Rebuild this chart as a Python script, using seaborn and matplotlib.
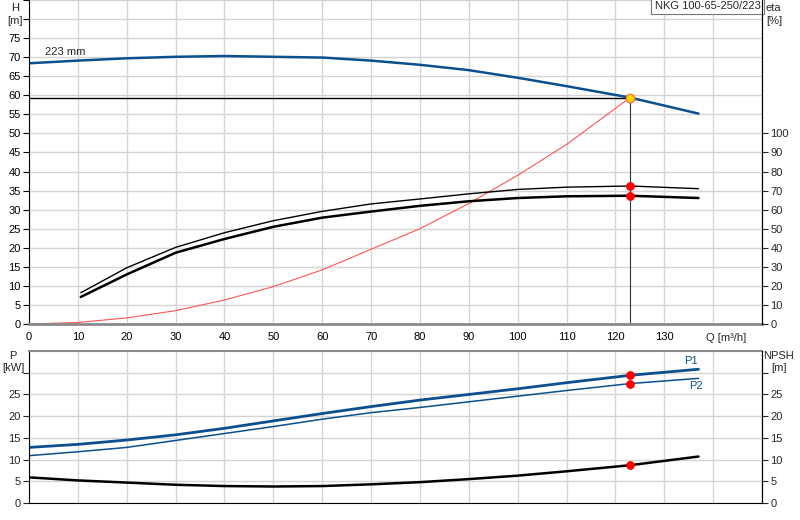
import matplotlib
matplotlib.use("Agg")
import matplotlib.pyplot as plt
import seaborn as sns
import pandas as pd

# pump curve, 223 mm impeller
q_head = [0, 10, 20, 30, 40, 50, 60, 70, 80, 90, 100, 110, 123.0, 137]
h_head = [68.4, 69.1, 69.7, 70.1, 70.3, 70.1, 69.9, 69.1, 68.0, 66.6, 64.6, 62.4, 59.4, 55.2]

# system curve up to duty point
q_sys = [0, 10, 20, 30, 40, 50, 60, 70, 80, 90, 100, 110, 123.0]
h_sys = [0, 0.4, 1.6, 3.5, 6.3, 9.8, 14.2, 19.6, 25.0, 31.6, 39.0, 47.1, 59.4]

# efficiency curves [%]
q_eta = [10.6, 20, 30, 40, 50, 60, 70, 80, 90, 100, 110, 123.0, 137]
eta_upper = [16.4, 29.5, 40.2, 47.9, 54.2, 59.1, 63.0, 65.6, 68.3, 70.6, 71.8, 72.4, 71.0]
eta_lower = [14.2, 26.0, 37.4, 44.6, 51.0, 55.8, 59.0, 62.0, 64.4, 66.1, 67.0, 67.3, 66.1]

# power and NPSH
q_pow = [0, 10, 20, 30, 40, 50, 60, 70, 80, 90, 100, 110, 123.0, 137]
p1 = [12.8, 13.5, 14.5, 15.7, 17.2, 18.9, 20.6, 22.2, 23.7, 25.0, 26.3, 27.7, 29.4, 30.8]
p2 = [10.9, 11.8, 12.8, 14.4, 16.0, 17.6, 19.3, 20.8, 22.0, 23.3, 24.6, 25.9, 27.5, 28.7]
npsh = [5.9, 5.2, 4.7, 4.2, 3.9, 3.8, 3.9, 4.3, 4.8, 5.5, 6.3, 7.3, 8.7, 10.7]

# duty point
q_duty = 123.0
h_duty = 59.4
eta_duty = [72.4, 67.3]
pow_duty = [29.4, 27.5, 8.7]

x_ticks = list(range(0, 151, 10))
x_labels = [str(v) if v <= 130 else "" for v in x_ticks]

blue = "#0b4f8f"
grid_c = "#d4d4d4"

sns.set_style("white")
plt.rcParams["font.family"] = ["Liberation Sans", "DejaVu Sans"]
plt.rcParams["font.size"] = 8

fig = plt.figure(figsize=(8, 5.2), dpi=100)
ax = fig.add_axes([29 / 800, 1 - 324 / 520, (762 - 29) / 800, 324 / 520])
ax2 = fig.add_axes([29 / 800, 1 - 503 / 520, (762 - 29) / 800, (503 - 351) / 520])

# ---- top panel ----
ax.set_xlim(0, 150)
ax.set_ylim(0, 85)
ax.set_xticks(x_ticks)
ax.set_xticklabels(x_labels)
ax.set_yticks(range(0, 86, 5))
ax.set_yticklabels([str(v) if v <= 75 else "" for v in range(0, 86, 5)])
ax.grid(True, color=grid_c, lw=1)
ax.set_axisbelow(True)
ax.spines["top"].set_visible(False)
ax.spines["left"].set_color("black")
ax.spines["right"].set_color("black")
ax.spines["bottom"].set_color("#8a8a8a")
ax.spines["bottom"].set_linewidth(2)
ax.tick_params(axis="both", direction="out", length=4, width=0.8, pad=2, colors="black")

ax.axhline(h_duty, xmin=0, xmax=q_duty / 150, color="black", lw=1)
ax.plot([q_duty, q_duty], [0, h_duty], color="#333333", lw=0.8)

sns.lineplot(x=q_sys, y=h_sys, ax=ax, color="#ff5555", lw=0.8, sort=False, estimator=None)
sns.lineplot(x=q_head, y=h_head, ax=ax, color=blue, lw=1.8, sort=False, estimator=None)
ax.scatter([q_duty], [h_duty], s=40, color="#ffd400", edgecolor="#ff6a3a", lw=0.8, zorder=6)
ax.text(7.5, 71.3, "223 mm", ha="center", va="center")
ax.set_xlabel("")
ax.set_ylabel("")

ax_eta = ax.twinx()
ax_eta.set_ylim(0, 170)
ax_eta.set_yticks(range(0, 101, 10))
ax_eta.tick_params(axis="y", direction="out", length=4, width=0.8, pad=2)
for s in ["top", "left", "bottom"]:
    ax_eta.spines[s].set_visible(False)
ax_eta.spines["right"].set_color("black")
sns.lineplot(x=q_eta, y=eta_upper, ax=ax_eta, color="black", lw=1.0, sort=False, estimator=None)
sns.lineplot(x=q_eta, y=eta_lower, ax=ax_eta, color="black", lw=1.8, sort=False, estimator=None)
ax_eta.scatter([q_duty, q_duty], eta_duty, s=28, color="red", zorder=6)
ax_eta.set_ylabel("")

ax.annotate("Q [m³/h]", xy=(142.7, 0), xycoords=("data", "axes fraction"),
            xytext=(0, -10), textcoords="offset points", ha="center", va="center")
ax.text(0.998, 0.998, "NKG 100-65-250/223", transform=ax.transAxes, ha="right", va="top",
        bbox=dict(boxstyle="square,pad=0.3", fc="white", ec="#777777", lw=0.8), zorder=10)

fig.text(15 / 800, 1 - 8 / 520, "H", ha="center", va="center")
fig.text(15 / 800, 1 - 21 / 520, "[m]", ha="center", va="center")
fig.text(766 / 800, 1 - 8 / 520, "eta", ha="left", va="center")
fig.text(766 / 800, 1 - 21 / 520, "[%]", ha="left", va="center")

# ---- bottom panel ----
ax2.set_xlim(0, 150)
ax2.set_ylim(0, 35)
ax2.set_xticks(x_ticks)
ax2.set_xticklabels([])
ax2.set_yticks(range(0, 31, 5))
ax2.set_yticklabels([str(v) if v <= 25 else "" for v in range(0, 31, 5)])
ax2.grid(True, color=grid_c, lw=1)
ax2.set_axisbelow(True)
ax2.spines["top"].set_color("#8a8a8a")
ax2.spines["top"].set_linewidth(1.5)
for s in ["left", "right", "bottom"]:
    ax2.spines[s].set_color("black")
ax2.tick_params(axis="y", direction="out", length=4, width=0.8, pad=2)
ax2.tick_params(axis="x", length=0)

sns.lineplot(x=q_pow, y=p1, ax=ax2, color=blue, lw=2.0, sort=False, estimator=None)
sns.lineplot(x=q_pow, y=p2, ax=ax2, color=blue, lw=1.1, sort=False, estimator=None)
sns.lineplot(x=q_pow, y=npsh, ax=ax2, color="black", lw=1.8, sort=False, estimator=None)
ax2.scatter([q_duty] * 3, pow_duty, s=28, color="red", zorder=6)
ax2.text(135.5, 31.6, "P1", color=blue, ha="center", va="bottom")
ax2.text(136.5, 28.2, "P2", color=blue, ha="center", va="top")
ax2.set_xlabel("")
ax2.set_ylabel("")

ax2r = ax2.twinx()
ax2r.set_ylim(0, 35)
ax2r.set_yticks(range(0, 31, 5))
ax2r.set_yticklabels([str(v) if v <= 25 else "" for v in range(0, 31, 5)])
ax2r.tick_params(axis="y", direction="out", length=4, width=0.8, pad=2)
for s in ["top", "left", "bottom"]:
    ax2r.spines[s].set_visible(False)
ax2r.spines["right"].set_color("black")

fig.text(13 / 800, 1 - 356 / 520, "P", ha="center", va="center")
fig.text(13 / 800, 1 - 368 / 520, "[kW]", ha="center", va="center")
fig.text(779 / 800, 1 - 356 / 520, "NPSH", ha="center", va="center")
fig.text(779 / 800, 1 - 368 / 520, "[m]", ha="center", va="center")

fig.savefig("out.png", dpi=100)
